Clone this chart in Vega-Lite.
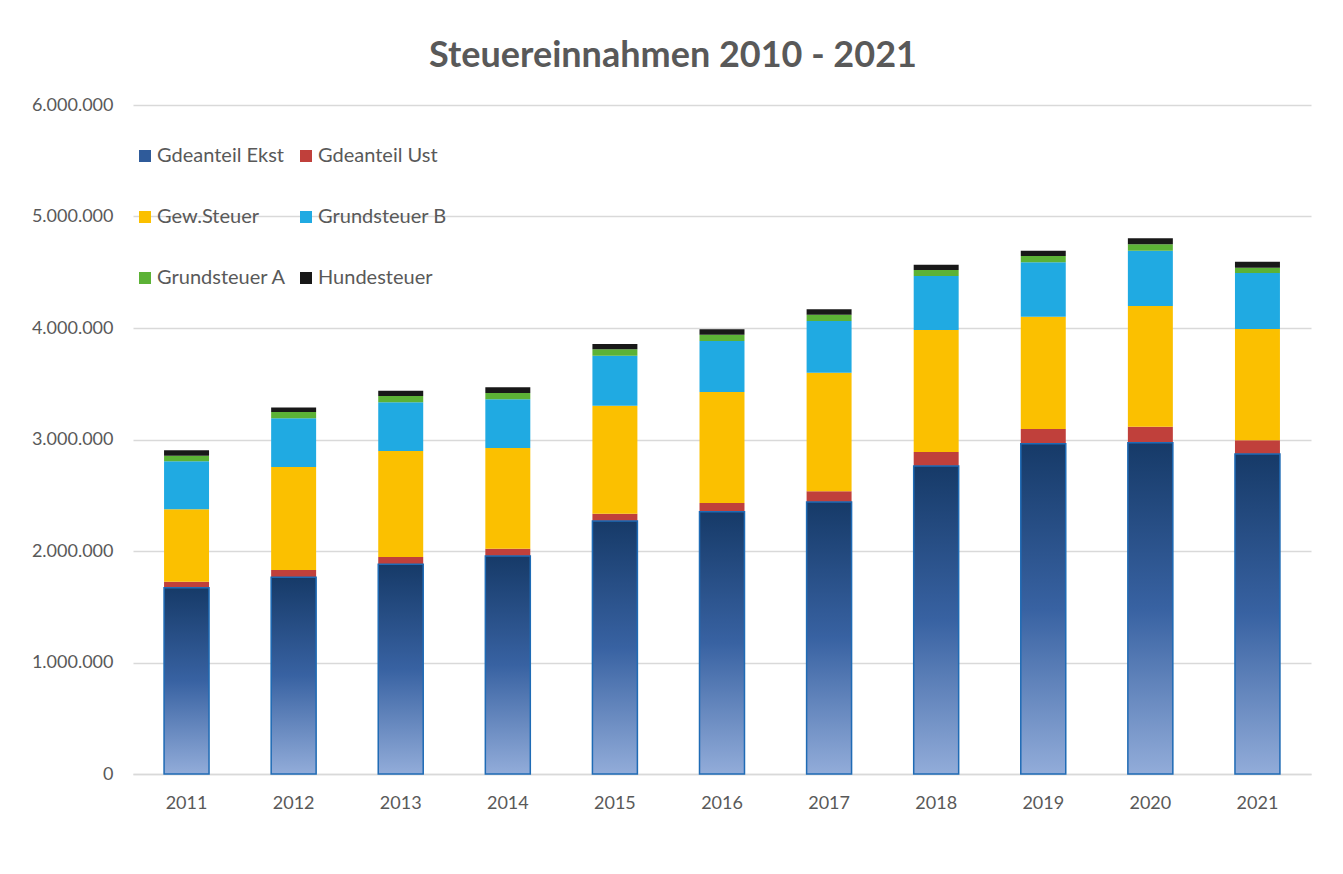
{
  "$schema": "https://vega.github.io/schema/vega-lite/v6.json",
  "autosize": {"type": "none"},
  "width": 1178,
  "height": 669,
  "padding": {"left": 133, "top": 105, "right": 32, "bottom": 100},
  "background": "white",
  "config": {
    "locale": {"number": {"decimal": ",", "thousands": ".", "grouping": [3], "currency": ["", " €"]}},
    "font": "Lato",
    "view": {"stroke": null}
  },
  "title": {
    "text": "Steuereinnahmen 2010 - 2021",
    "font": "Lato",
    "fontSize": 36,
    "fontWeight": "bold",
    "color": "#595959",
    "anchor": "middle",
    "dx": -49,
    "offset": 21
  },
  "data": {
    "values": [
      {"year": "2011", "series": "Gdeanteil Ekst", "value": 1671000},
      {"year": "2011", "series": "Gdeanteil Ust", "value": 54000},
      {"year": "2011", "series": "Gew.Steuer", "value": 649000},
      {"year": "2011", "series": "Grundsteuer B", "value": 430000},
      {"year": "2011", "series": "Grundsteuer A", "value": 51000},
      {"year": "2011", "series": "Hundesteuer", "value": 48000},
      {"year": "2012", "series": "Gdeanteil Ekst", "value": 1764000},
      {"year": "2012", "series": "Gdeanteil Ust", "value": 66000},
      {"year": "2012", "series": "Gew.Steuer", "value": 923000},
      {"year": "2012", "series": "Grundsteuer B", "value": 437000},
      {"year": "2012", "series": "Grundsteuer A", "value": 57000},
      {"year": "2012", "series": "Hundesteuer", "value": 39000},
      {"year": "2013", "series": "Gdeanteil Ekst", "value": 1881000},
      {"year": "2013", "series": "Gdeanteil Ust", "value": 65000},
      {"year": "2013", "series": "Gew.Steuer", "value": 951000},
      {"year": "2013", "series": "Grundsteuer B", "value": 437000},
      {"year": "2013", "series": "Grundsteuer A", "value": 56000},
      {"year": "2013", "series": "Hundesteuer", "value": 48000},
      {"year": "2014", "series": "Gdeanteil Ekst", "value": 1955000},
      {"year": "2014", "series": "Gdeanteil Ust", "value": 66000},
      {"year": "2014", "series": "Gew.Steuer", "value": 903000},
      {"year": "2014", "series": "Grundsteuer B", "value": 437000},
      {"year": "2014", "series": "Grundsteuer A", "value": 56000},
      {"year": "2014", "series": "Hundesteuer", "value": 51000},
      {"year": "2015", "series": "Gdeanteil Ekst", "value": 2269000},
      {"year": "2015", "series": "Gdeanteil Ust", "value": 66000},
      {"year": "2015", "series": "Gew.Steuer", "value": 968000},
      {"year": "2015", "series": "Grundsteuer B", "value": 449000},
      {"year": "2015", "series": "Grundsteuer A", "value": 57000},
      {"year": "2015", "series": "Hundesteuer", "value": 48000},
      {"year": "2016", "series": "Gdeanteil Ekst", "value": 2353000},
      {"year": "2016", "series": "Gdeanteil Ust", "value": 77000},
      {"year": "2016", "series": "Gew.Steuer", "value": 996000},
      {"year": "2016", "series": "Grundsteuer B", "value": 457000},
      {"year": "2016", "series": "Grundsteuer A", "value": 57000},
      {"year": "2016", "series": "Hundesteuer", "value": 48000},
      {"year": "2017", "series": "Gdeanteil Ekst", "value": 2439000},
      {"year": "2017", "series": "Gdeanteil Ust", "value": 96000},
      {"year": "2017", "series": "Gew.Steuer", "value": 1064000},
      {"year": "2017", "series": "Grundsteuer B", "value": 464000},
      {"year": "2017", "series": "Grundsteuer A", "value": 56000},
      {"year": "2017", "series": "Hundesteuer", "value": 49000},
      {"year": "2018", "series": "Gdeanteil Ekst", "value": 2762000},
      {"year": "2018", "series": "Gdeanteil Ust", "value": 126000},
      {"year": "2018", "series": "Gew.Steuer", "value": 1094000},
      {"year": "2018", "series": "Grundsteuer B", "value": 484000},
      {"year": "2018", "series": "Grundsteuer A", "value": 54000},
      {"year": "2018", "series": "Hundesteuer", "value": 48000},
      {"year": "2019", "series": "Gdeanteil Ekst", "value": 2962000},
      {"year": "2019", "series": "Gdeanteil Ust", "value": 132000},
      {"year": "2019", "series": "Gew.Steuer", "value": 1007000},
      {"year": "2019", "series": "Grundsteuer B", "value": 488000},
      {"year": "2019", "series": "Grundsteuer A", "value": 57000},
      {"year": "2019", "series": "Hundesteuer", "value": 47000},
      {"year": "2020", "series": "Gdeanteil Ekst", "value": 2971000},
      {"year": "2020", "series": "Gdeanteil Ust", "value": 144000},
      {"year": "2020", "series": "Gew.Steuer", "value": 1082000},
      {"year": "2020", "series": "Grundsteuer B", "value": 496000},
      {"year": "2020", "series": "Grundsteuer A", "value": 58000},
      {"year": "2020", "series": "Hundesteuer", "value": 53000},
      {"year": "2021", "series": "Gdeanteil Ekst", "value": 2870000},
      {"year": "2021", "series": "Gdeanteil Ust", "value": 123000},
      {"year": "2021", "series": "Gew.Steuer", "value": 998000},
      {"year": "2021", "series": "Grundsteuer B", "value": 502000},
      {"year": "2021", "series": "Grundsteuer A", "value": 48000},
      {"year": "2021", "series": "Hundesteuer", "value": 54000}
    ]
  },
  "transform": [
    {"calculate": "indexof(['Gdeanteil Ekst','Gdeanteil Ust','Gew.Steuer','Grundsteuer B','Grundsteuer A','Hundesteuer'], datum.series)", "as": "ord"}
  ],
  "encoding": {
    "x": {
      "field": "year",
      "type": "nominal",
      "scale": {"paddingInner": 0.58, "paddingOuter": 0.29},
      "axis": {
        "title": null,
        "labelAngle": 0,
        "labelFont": "Lato",
        "labelFontSize": 18,
        "labelColor": "#595959",
        "labelPadding": 20,
        "ticks": false,
        "domain": true,
        "domainColor": "#d9d9d9",
        "domainWidth": 1.5
      }
    }
  },
  "layer": [
    {
      "mark": {"type": "bar"},
      "encoding": {
        "y": {
          "field": "value",
          "type": "quantitative",
          "aggregate": "sum",
          "stack": "zero",
          "scale": {"domain": [0, 6000000], "nice": false},
          "axis": {
            "title": null,
            "tickCount": 6,
            "format": ",d",
            "labelFont": "Lato",
            "labelFontSize": 18,
            "labelColor": "#595959",
            "labelPadding": 20,
            "ticks": false,
            "domain": false,
            "grid": true,
            "gridColor": "#d9d9d9",
            "gridWidth": 1.5
          }
        },
        "color": {
          "field": "series",
          "type": "nominal",
          "scale": {
            "domain": ["Gdeanteil Ekst", "Gdeanteil Ust", "Gew.Steuer", "Grundsteuer B", "Grundsteuer A", "Hundesteuer"],
            "range": ["#2f5b9a", "#c0403b", "#fbc000", "#20aae2", "#5cb236", "#181818"]
          },
          "legend": {
            "title": null,
            "orient": "none",
            "direction": "horizontal",
            "legendX": 2,
            "legendY": 41,
            "columns": 2,
            "columnPadding": 9,
            "rowPadding": 41,
            "symbolType": "square",
            "symbolSize": 144,
            "symbolStrokeWidth": 0,
            "labelFont": "Lato",
            "labelFontSize": 20,
            "labelColor": "#595959",
            "labelOffset": 2
          }
        },
        "order": {"field": "ord", "type": "quantitative"}
      }
    },
    {
      "transform": [{"filter": "datum.series === 'Gdeanteil Ekst'"}],
      "mark": {
        "type": "bar",
        "stroke": "#1f6bb5",
        "strokeWidth": 1.5,
        "fill": {
          "gradient": "linear",
          "x1": 0, "y1": 0, "x2": 0, "y2": 1,
          "stops": [
            {"offset": 0, "color": "#163a68"},
            {"offset": 0.5, "color": "#3862a2"},
            {"offset": 1, "color": "#92acd9"}
          ]
        }
      },
      "encoding": {
        "y": {"field": "value", "type": "quantitative"}
      }
    }
  ]
}
